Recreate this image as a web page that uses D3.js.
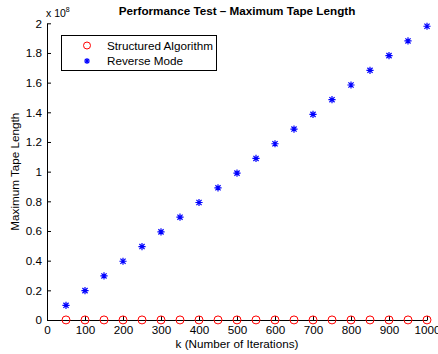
<!DOCTYPE html>
<html>
<head>
<meta charset="utf-8">
<script src="https://cdnjs.cloudflare.com/ajax/libs/d3/7.8.5/d3.min.js"></script>
<style>
body { margin:0; background:#fff; }
text { font-family: "Liberation Sans", Arial, sans-serif; }
</style>
</head>
<body>
<div id="chart"></div>
<script>
// values in units of 1e8
let kValues = [50,100,150,200,250,300,350,400,450,500,550,600,650,700,750,800,850,900,950,1000];
let structured = [0.0005,0.0005,0.0005,0.0005,0.0005,0.0005,0.0005,0.0005,0.0005,0.0005,
                  0.0005,0.0005,0.0005,0.0005,0.0005,0.0005,0.0005,0.0005,0.0005,0.0005];
let reverse = [0.099,0.198,0.297,0.396,0.495,0.594,0.693,0.792,0.891,0.990,
               1.089,1.188,1.287,1.386,1.485,1.584,1.683,1.782,1.881,1.980];
let xTicks = [0,100,200,300,400,500,600,700,800,900,1000];
let yTicks = [0,0.2,0.4,0.6,0.8,1,1.2,1.4,1.6,1.8,2];
let seriesNames = ["Structured Algorithm","Reverse Mode"];

let width = 438, height = 354;
let margin = {left:47, right:11, top:23.3, bottom:34};
let fs = "11.7px";

let svg = d3.select("#chart").append("svg")
    .attr("width", width).attr("height", height);

let x = d3.scaleLinear().domain([0,1000]).range([margin.left, width-margin.right]);
let y = d3.scaleLinear().domain([0,2]).range([height-margin.bottom, margin.top]);

// x axis
let xAxis = svg.append("g")
    .attr("transform","translate(0,"+y(0)+")")
    .call(d3.axisBottom(x).tickValues(xTicks).tickSizeInner(-4).tickSizeOuter(0).tickPadding(6)
      .tickFormat(d3.format("d")));
// y axis
let yAxis = svg.append("g")
    .attr("transform","translate("+x(0)+",0)")
    .call(d3.axisLeft(y).tickValues(yTicks).tickSizeInner(-4).tickSizeOuter(0).tickPadding(5)
      .tickFormat(function(d){ return d3.format("~g")(d); }));

[xAxis,yAxis].forEach(function(a){
  a.select(".domain").attr("stroke","#000").attr("stroke-width",1);
  a.selectAll(".tick line").attr("stroke","#000");
  a.selectAll(".tick text").attr("fill","#000").style("font-size",fs)
    .style("font-family","'Liberation Sans', Arial, sans-serif");
});

// exponent label
let expo = svg.append("text").attr("x", x(0)-1).attr("y", y(2)-6)
  .style("font-size","10.5px");
expo.append("tspan").text("x 10");
expo.append("tspan").attr("dy",-5).style("font-size","7px").text("8");

// title
svg.append("text")
  .attr("x",(x(0)+x(1000))/2).attr("y",15)
  .attr("text-anchor","middle")
  .style("font-size",fs).style("font-weight","bold")
  .text("Performance Test \u2013 Maximum Tape Length");

// axis labels
svg.append("text")
  .attr("x",(x(0)+x(1000))/2).attr("y",348)
  .attr("text-anchor","middle").style("font-size",fs)
  .text("k (Number of Iterations)");
svg.append("text")
  .attr("transform","translate(19,"+((y(0)+y(2))/2)+") rotate(-90)")
  .attr("text-anchor","middle").style("font-size",fs)
  .text("Maximum Tape Length");

function star(g, cx, cy, r){
  let p = "M"+(cx-r)+","+cy+"L"+(cx+r)+","+cy+
          "M"+cx+","+(cy-r)+"L"+cx+","+(cy+r);
  let d = r*0.72;
  p += "M"+(cx-d)+","+(cy-d)+"L"+(cx+d)+","+(cy+d)+
       "M"+(cx-d)+","+(cy+d)+"L"+(cx+d)+","+(cy-d);
  g.append("path").attr("d",p).attr("stroke","#0000ff").attr("stroke-width",1.2).attr("fill","none");
}

// structured markers
svg.selectAll(".circ")
  .data(kValues)
.enter().append("circle")
  .attr("class","circ")
  .attr("cx",function(d){ return x(d); })
  .attr("cy",function(d,i){ return y(structured[i]); })
  .attr("r",4)
  .attr("fill","none")
  .attr("stroke","#ff0000")
  .attr("stroke-width",1);

// reverse markers
let starG = svg.append("g");
kValues.forEach(function(d,i){
  star(starG, x(d), y(reverse[i]), 3.6);
});

// legend
let lg = svg.append("g");
lg.append("rect").attr("x",61.5).attr("y",35.5).attr("width",155).attr("height",35)
  .attr("fill","#fff").attr("stroke","#000").attr("stroke-width",1);
lg.append("circle").attr("cx",87).attr("cy",45.5).attr("r",3.5)
  .attr("fill","none").attr("stroke","#ff0000").attr("stroke-width",1);
star(lg, 87, 61, 3);
lg.append("text").attr("x",107).attr("y",49.5).style("font-size",fs).text(seriesNames[0]);
lg.append("text").attr("x",107).attr("y",65).style("font-size",fs).text(seriesNames[1]);
</script>
</body>
</html>
